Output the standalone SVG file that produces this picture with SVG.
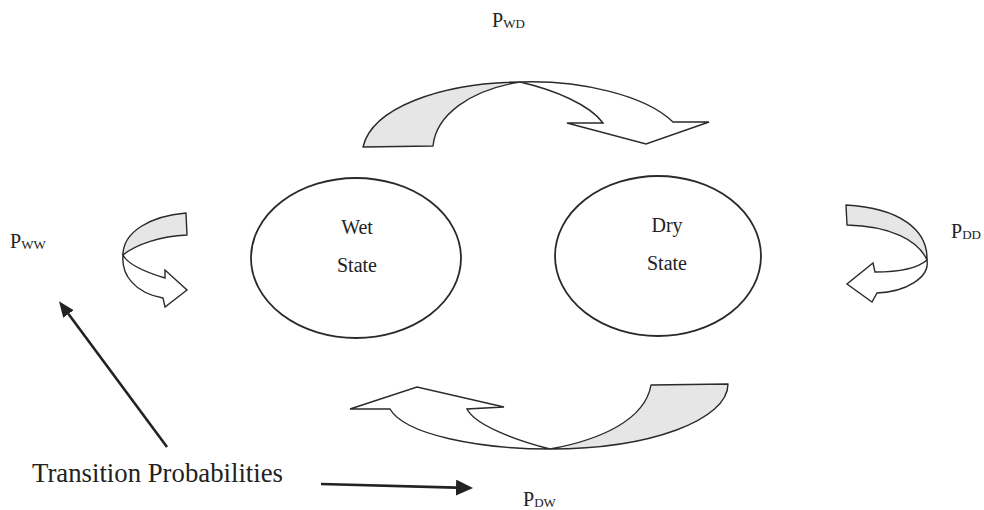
<svg xmlns="http://www.w3.org/2000/svg" width="984" height="510" viewBox="0 0 984 510">
<defs>
<style>
.node ellipse{fill:#fff;stroke:#2a2a2a;stroke-width:1.8}
.lbl{font-family:"Liberation Serif","Times New Roman",serif;fill:#222;text-anchor:middle}
.plbl{font-family:"Liberation Serif","Times New Roman",serif;fill:#222;font-size:20px}
.sub{font-size:13px}
.grey{fill:#e6e6e6;stroke:#2a2a2a;stroke-width:1.4;stroke-linejoin:round}
.white{fill:#fff;stroke:#2a2a2a;stroke-width:1.4;stroke-linejoin:miter}
.pointer{stroke:#222;stroke-width:2.6;fill:none}
</style>
<marker id="ahL" markerUnits="userSpaceOnUse" markerWidth="17" markerHeight="16" viewBox="0 -8 17 16" refX="0" refY="0" orient="auto"><path d="M0,-8 L17,0 L0,8 Z" fill="#222"/></marker>
<marker id="ahS" markerUnits="userSpaceOnUse" markerWidth="16" markerHeight="14" viewBox="0 -7 16 14" refX="0" refY="0" orient="auto"><path d="M0,-6.5 L16,0 L0,6.5 Z" fill="#222"/></marker>
</defs>
<rect width="984" height="510" fill="#fff"/>

<g id="wet-state" class="node">
<ellipse cx="356" cy="258" rx="105" ry="80"/>
<text class="lbl" x="357" y="234" font-size="20">Wet</text>
<text class="lbl" x="357" y="272" font-size="20">State</text>
</g>

<g id="dry-state" class="node">
<ellipse cx="658" cy="256" rx="103" ry="80"/>
<text class="lbl" x="667" y="232" font-size="20">Dry</text>
<text class="lbl" x="667" y="270" font-size="20">State</text>
</g>

<g id="connectors">
<g id="arrow-wd">
<path class="grey" d="M363,147 C372,108 440,83 520,82 C470,90 436,115 433,146 Z"/>
<path class="white" d="M520,82 C580,80 645,95 673,122 L709,122 L646,144 L567,123 L603,123 C590,105 555,90 520,82 Z"/>
</g>
<g id="arrow-dw">
<path class="grey" d="M651,385 L728,384 C728,420 650,449 550,449 C600,440 645,420 651,385 Z"/>
<path class="white" d="M550,449 C480,449 405,435 390,409 L350,409 L417,387 L504,407 L467,409 C475,425 515,440 550,449 Z"/>
</g>
<g id="arrow-ww">
<path class="grey" d="M186,213 C150,216 123,232 123,255 C135,245 160,236 187,235 Z"/>
<path class="white" d="M123,255 C121,275 135,293 163,298 L165,307 L187,290 L165,270 L165,278 C145,272 128,265 123,255 Z"/>
</g>
<g id="arrow-dd">
<path class="grey" d="M846,205 C900,208 928,230 927,260 C918,240 890,226 847,225 Z"/>
<path class="white" d="M927,260 C918,268 898,272 875,272 L873,263 L847,284 L872,302 L877,293 C905,292 930,278 927,260 Z"/>
</g>
<line class="pointer" x1="167" y1="447" x2="68.5" y2="314" marker-end="url(#ahS)"/>
<line class="pointer" x1="321" y1="484" x2="456" y2="487.6" marker-end="url(#ahL)"/>
</g>

<g id="labels">
<text class="plbl" x="492" y="27">P<tspan class="sub" dy="1">WD</tspan></text>
<text class="plbl" x="10" y="248">P<tspan class="sub" dy="1">WW</tspan></text>
<text class="plbl" x="951" y="238">P<tspan class="sub" dy="1">DD</tspan></text>
<text class="plbl" x="523" y="506">P<tspan class="sub" dy="1">DW</tspan></text>
<text x="32" y="482" font-family="&quot;Liberation Serif&quot;,&quot;Times New Roman&quot;,serif" font-size="26.5" fill="#222" textLength="251" lengthAdjust="spacingAndGlyphs">Transition Probabilities</text>
</g>
</svg>
